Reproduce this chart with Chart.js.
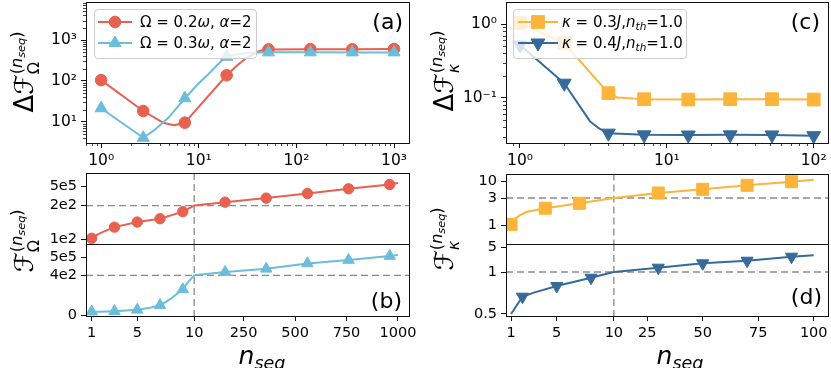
<!DOCTYPE html>
<html>
<head>
<meta charset="utf-8">
<title>Fidelity vs n_seq</title>
<script src="https://cdn.jsdelivr.net/npm/chart.js@4.4.1/dist/chart.umd.min.js"></script>
<style>
html, body { margin: 0; padding: 0; background: #fff; }
#fig { position: relative; width: 831px; height: 368px; overflow: hidden; font-family: "DejaVu Sans", sans-serif; color: #000; }
#fig canvas { position: absolute; }
.t { position: absolute; white-space: nowrap; line-height: 1; }
.ylab { font-size: 26px; transform: translate(-50%, -50%) rotate(-90deg); }
.xlab { font-size: 25px; transform: translate(-50%, 0); }
.plab { font-size: 22px; line-height: 22px; }
.lo { font-size: 0.7em; position: relative; top: 0.3em; }
.stk { position: relative; display: inline-block; font-size: 0.62em; }
.stk .up { position: relative; top: -0.7em; }
.stk .dn { position: absolute; left: 0; top: 0.35em; }
.legend { position: absolute; border: 1px solid #ccc; border-radius: 4px; background: rgba(255,255,255,0.8); box-sizing: border-box; font-size: 15px; z-index: 2; }
.legend .row { position: absolute; left: 0; height: 20px; width: 100%; }
.legend .txt { position: absolute; top: 2px; white-space: nowrap; line-height: 16px; }
</style>
</head>
<body>
<div id="fig">
  <canvas id="chartA" width="420" height="170" style="left:0;top:0"></canvas>
  <canvas id="chartC" width="411" height="170" style="left:420px;top:0"></canvas>
  <canvas id="chartBt" width="420" height="75" style="left:0;top:170px"></canvas>
  <canvas id="chartBb" width="420" height="138" style="left:0;top:230px"></canvas>
  <canvas id="chartDt" width="411" height="75" style="left:420px;top:170px"></canvas>
  <canvas id="chartDb" width="411" height="138" style="left:420px;top:230px"></canvas>

  <div class="legend" id="legA" style="left:94px;top:9px;width:163px;height:50px"></div>
  <div class="legend" id="legC" style="left:513px;top:9px;width:174px;height:50px"></div>

  <div class="t ylab" style="left:24px;top:72px">Δℱ<span class="stk"><span class="up">(<i>n</i><span class="lo"><i>seq</i></span>)</span><span class="dn">Ω</span></span></div>
  <div class="t ylab" style="left:24px;top:241px">ℱ<span class="stk"><span class="up">(<i>n</i><span class="lo"><i>seq</i></span>)</span><span class="dn">Ω</span></span></div>
  <div class="t ylab" style="left:444px;top:71px">Δℱ<span class="stk"><span class="up">(<i>n</i><span class="lo"><i>seq</i></span>)</span><span class="dn"><i>κ</i></span></span></div>
  <div class="t ylab" style="left:444px;top:239px">ℱ<span class="stk"><span class="up">(<i>n</i><span class="lo"><i>seq</i></span>)</span><span class="dn"><i>κ</i></span></span></div>

  <div class="t xlab" style="left:262px;top:343px"><i>n</i><span class="lo"><i>seq</i></span></div>
  <div class="t xlab" style="left:680px;top:343px"><i>n</i><span class="lo"><i>seq</i></span></div>

  <div class="t plab" style="right:428px;top:11px">(a)</div>
  <div class="t plab" style="right:11px;top:11px">(c)</div>
  <div class="t plab" style="right:429px;top:290px">(b)</div>
  <div class="t plab" style="right:9px;top:286px">(d)</div>
</div>
<script>
// ---- data ----

// (a) ΔF_Ω vs n_seq, log-log
const nA = [1, 2.7, 7.2, 19.3, 51.8, 139, 373, 1000];
const dFOmega02 = [105, 18.5, 9.6, 138, 590, 600, 595, 605];
const dFOmega03 = [21.6, 4.1, 37.8, 392, 501, 501, 500, 500];
const nA02Curve = [1, 2.7, 4.4, 5.6, 7.2, 19.3, 25, 30, 40, 45, 51.8, 139, 373, 1000];
const dFOmega02Curve = [105, 18.5, 9.4, 8.3, 9.6, 138, 246, 350, 520, 565, 590, 600, 595, 605];
const nA03Curve = [1, 2.7, 3.5, 4.8, 7.2, 10, 12.3, 16.7, 19.3, 25, 31, 40, 51.8, 139, 373, 1000];
const dFOmega03Curve = [21.6, 4.1, 6.3, 12.1, 37.8, 88, 140, 296, 392, 450, 485, 497, 501, 501, 500, 500];
const aXTicks = [1, 10, 100, 1000];
const aXLabels = ['10⁰', '10¹', '10²', '10³'];
const aYTicks = [10, 100, 1000];
const aYLabels = ['10¹', '10²', '10³'];

// (c) ΔF_κ vs n_seq, log-log
const nC = [1, 2, 4, 7, 14, 27, 52, 100];
const dFKappa03 = [1.04, 0.55, 0.116, 0.096, 0.095, 0.096, 0.096, 0.095];
const dFKappa04 = [0.52, 0.158, 0.0333, 0.0316, 0.0314, 0.0316, 0.0315, 0.0308];
const nC03Curve = [1, 2, 4, 4.6, 7, 14, 27, 52, 100];
const dFKappa03Curve = [1.04, 0.55, 0.116, 0.101, 0.096, 0.095, 0.096, 0.096, 0.095];
const nC04Curve = [1, 2, 3, 3.5, 4, 7, 14, 27, 52, 100];
const dFKappa04Curve = [0.52, 0.158, 0.048, 0.038, 0.0333, 0.0316, 0.0314, 0.0316, 0.0315, 0.0308];
const cXTicks = [1, 10, 100];
const cXLabels = ['10⁰', '10¹', '10²'];
const cYTicks = [0.1, 1];
const cYLabels = ['10⁻¹', '10⁰'];

// (b) F_Ω, broken axes (1..10 | 10..1000)
const nB = [1, 3, 5, 7, 9, 160, 360, 560, 760, 960];
const fOmega02 = [103, 136, 151, 161, 182, 89000, 195000, 316000, 439000, 552000];
const fOmega03 = [40, 45, 58, 103, 261, 92000, 180000, 330000, 425000, 536000];
const nB02Curve = [1, 1.5, 2, 3, 5, 7, 9, 10, 160, 360, 560, 760, 960, 1000];
const fOmega02Curve = [103, 114, 122, 136, 151, 161, 182, 200, 89000, 195000, 316000, 439000, 552000, 589000];
const nB03Curve = [1, 3, 5, 6, 7, 8, 9, 9.5, 10, 160, 360, 560, 760, 960, 1000];
const fOmega03Curve = [36, 45, 58, 75, 103, 172, 261, 337, 400, 92000, 180000, 330000, 425000, 536000, 563000];
const bXTicks = [1, 5, 10, 250, 500, 750, 1000];
const bXLabels = ['1', '5', '10', '250', '500', '750', '1000'];
const bTopYTicks = [100, 200, 500000];
const bTopYLabels = ['1e2', '2e2', '5e5'];
const bBotYTicks = [0, 400, 500000];
const bBotYLabels = ['0', '4e2', '5e5'];

// (d) F_κ, broken axes (1..10 | 10..100)
const nD03 = [1, 4, 7, 30, 50, 70, 90];
const fKappa03 = [1.1, 2.26, 2.62, 5.15, 6.74, 8.45, 10.0];
const nD04 = [2, 5, 8, 30, 50, 70, 90];
const fKappa04 = [0.706, 0.833, 0.932, 1.70, 2.41, 2.83, 3.48];
const nD03Curve = [1, 1.3, 1.8, 2.4, 4, 7, 10, 30, 50, 70, 90, 100];
const fKappa03Curve = [1.1, 1.46, 1.77, 2.01, 2.26, 2.62, 3.0, 5.15, 6.74, 8.45, 10.0, 10.86];
const nD04Curve = [1, 2, 3, 5, 8, 10, 30, 50, 70, 90, 100];
const fKappa04Curve = [0.5, 0.706, 0.754, 0.833, 0.932, 1.0, 1.70, 2.41, 2.83, 3.48, 3.70];
const dXTicks = [1, 5, 10, 25, 50, 75, 100];
const dXLabels = ['1', '5', '10', '25', '50', '75', '100'];
const dTopYTicks = [1, 3, 10];
const dTopYLabels = ['1', '3', '10'];
const dBotYTicks = [0.5, 1, 5];
const dBotYLabels = ['0.5', '1', '5'];

const RED = '#e8604f';
const SKY = '#6cbdd9';
const ORANGE = '#fdb43a';
const NAVY = '#356a9a';
const FONT = '"DejaVu Sans", sans-serif';

// linear scale that is stretched differently on each side of its knots (broken axis)
class PiecewiseScale extends Chart.LinearScale {
    static id = 'piecewise';

    toUnit(v) {
        const k = this.options.knots;
        const u = this.options.units;
        let i = 0;
        while (i < k.length - 2 && v > k[i + 1]) { i++; }
        return u[i] + (v - k[i]) * (u[i + 1] - u[i]) / (k[i + 1] - k[i]);
    }

    fromUnit(p) {
        const k = this.options.knots;
        const u = this.options.units;
        let i = 0;
        while (i < u.length - 2 && p > u[i + 1]) { i++; }
        return k[i] + (p - u[i]) * (k[i + 1] - k[i]) / (u[i + 1] - u[i]);
    }

    determineDataLimits() {
        this.min = this.options.lo;
        this.max = this.options.hi;
    }

    buildTicks() {
        return this.options.marks.map(v => ({ value: v }));
    }

    getPixelForValue(v) {
        return v === null || v === undefined ? NaN : super.getPixelForValue(this.toUnit(v));
    }

    getValueForPixel(px) {
        return this.fromUnit(super.getValueForPixel(px));
    }
}
Chart.register(PiecewiseScale);

const framePlugin = {
    id: 'frame',
    afterDatasetsDraw(chart) {
        const { ctx, chartArea: a } = chart;
        const l = Math.round(a.left), t = Math.round(a.top);
        const r = Math.round(a.right), b = Math.round(a.bottom);
        ctx.save();
        ctx.strokeStyle = '#111';
        ctx.lineWidth = 1;
        ctx.strokeRect(l + 0.5, t + 0.5, r - l, b - t);
        ctx.restore();
    },
};

const minorTickPlugin = {
    id: 'minorTicks',
    afterDraw(chart) {
        const ctx = chart.ctx;
        ctx.save();
        ctx.strokeStyle = '#111';
        ctx.lineWidth = 0.8;
        Object.values(chart.scales).forEach((s) => {
            if (s.type !== 'logarithmic') { return; }
            const lo = Math.floor(Math.log10(s.min));
            const hi = Math.ceil(Math.log10(s.max));
            for (let e = lo; e < hi; e++) {
                for (let m = 2; m < 10; m++) {
                    const v = m * Math.pow(10, e);
                    if (v < s.min || v > s.max) { continue; }
                    const p = Math.round(s.getPixelForValue(v)) + 0.5;
                    ctx.beginPath();
                    if (s.isHorizontal()) {
                        ctx.moveTo(p, s.top);
                        ctx.lineTo(p, s.top + 3);
                    } else {
                        ctx.moveTo(s.right, p);
                        ctx.lineTo(s.right - 3, p);
                    }
                    ctx.stroke();
                }
            }
        });
        ctx.restore();
    },
};

// dashed guide lines at the axis break values
const guidePlugin = {
    id: 'guides',
    beforeDatasetsDraw(chart, args, opts) {
        const { ctx, chartArea: a, scales } = chart;
        ctx.save();
        ctx.beginPath();
        ctx.rect(a.left, a.top, a.right - a.left, a.bottom - a.top);
        ctx.clip();
        ctx.strokeStyle = '#8a8a8a';
        ctx.lineWidth = 1.3;
        ctx.setLineDash([7, 4]);
        (opts.x || []).forEach((v) => {
            const p = scales.x.getPixelForValue(v);
            ctx.beginPath();
            ctx.moveTo(p, a.top);
            ctx.lineTo(p, a.bottom);
            ctx.stroke();
        });
        (opts.y || []).forEach((v) => {
            const p = scales.y.getPixelForValue(v);
            ctx.beginPath();
            ctx.moveTo(a.left, p);
            ctx.lineTo(a.right, p);
            ctx.stroke();
        });
        ctx.restore();
    },
};

function zeroPad(s) {
    s.paddingLeft = 0;
    s.paddingRight = 0;
    s.paddingTop = 0;
    s.paddingBottom = 0;
}

function fixWidth(w) {
    return (s) => { s.width = w; zeroPad(s); };
}

function fixHeight(h) {
    return (s) => { s.height = h; zeroPad(s); };
}

function tickOpts(labels, size) {
    return {
        font: { family: FONT, size: size || 14.5 },
        color: '#000',
        padding: 4,
        autoSkip: false,
        maxRotation: 0,
        minRotation: 0,
        callback: (v, i) => labels[i],
    };
}

const grid = { drawOnChartArea: false, drawTicks: true, tickLength: 5, tickColor: '#111', tickWidth: 1 };

function logAxis(min, max, ticks, labels, fit) {
    return {
        type: 'logarithmic',
        min,
        max,
        afterBuildTicks: (s) => { s.ticks = ticks.map(v => ({ value: v })); },
        ticks: tickOpts(labels, 15.5),
        grid,
        border: { display: false },
        afterFit: fit,
    };
}

function brokenAxis(knots, units, lo, hi, ticks, labels, fit) {
    return {
        type: 'piecewise',
        knots,
        units,
        lo,
        hi,
        marks: ticks,
        ticks: tickOpts(labels),
        grid,
        border: { display: false },
        afterFit: fit,
    };
}

function pts(xs, ys) {
    return xs.map((x, i) => ({ x, y: ys[i] }));
}

function curve(xs, ys, color) {
    return {
        data: pts(xs, ys),
        borderColor: color,
        borderWidth: 2,
        borderJoinStyle: 'round',
        pointRadius: 0,
        tension: 0,
        clip: 0,
    };
}

function marks(xs, ys, color, style, radius, rotation) {
    return {
        data: pts(xs, ys),
        showLine: false,
        pointStyle: style,
        pointRadius: radius,
        pointRotation: rotation || 0,
        pointBackgroundColor: color,
        pointBorderColor: color,
        pointBorderWidth: 1,
        clip: 0,
    };
}

function draw(id, datasets, scales, padding, guides) {
    return new Chart(document.getElementById(id), {
        type: 'line',
        data: { datasets },
        options: {
            responsive: false,
            animation: false,
            events: [],
            layout: { padding, autoPadding: false },
            plugins: {
                legend: { display: false },
                tooltip: { enabled: false },
                guides: guides || {},
            },
            scales,
        },
        plugins: [guidePlugin, framePlugin, minorTickPlugin],
    });
}

// (a)
draw('chartA', [
    marks(nA, dFOmega03, SKY, 'triangle', 7),
    curve(nA03Curve, dFOmega03Curve, SKY),
    marks(nA, dFOmega02, RED, 'circle', 5.8),
    curve(nA02Curve, dFOmega02Curve, RED),
], {
    x: logAxis(0.72, 1423, aXTicks, aXLabels, fixHeight(27)),
    y: logAxis(3.06, 8500, aYTicks, aYLabels, fixWidth(86)),
}, { left: 0, top: 2, right: 11, bottom: 0 });

// (c)
draw('chartC', [
    marks(nC, dFKappa04, NAVY, 'triangle', 8, 180),
    curve(nC04Curve, dFKappa04Curve, NAVY),
    marks(nC, dFKappa03, ORANGE, 'rect', 9),
    curve(nC03Curve, dFKappa03Curve, ORANGE),
], {
    x: logAxis(0.803, 125.1, cXTicks, cXLabels, fixHeight(27)),
    y: logAxis(0.0245, 1.99, cYTicks, cYLabels, fixWidth(86)),
}, { left: 0, top: 2, right: 3, bottom: 0 });

// (b) top and bottom
const bX = [[1, 10, 1000], [0, 9, 26.89], -0.5, 27.86];
draw('chartBt', [
    marks(nB, fOmega02, RED, 'circle', 5.2),
    curve(nB02Curve, fOmega02Curve, RED),
], {
    x: Object.assign(brokenAxis(bX[0], bX[1], bX[2], bX[3], bXTicks, bXLabels), { display: false }),
    y: brokenAxis([100, 200, 500000], [0, 1, 1.565], -0.14, 1.964, bTopYTicks, bTopYLabels, fixWidth(86)),
}, { left: 0, top: 3, right: 11, bottom: 1 }, { x: [10], y: [200] });

draw('chartBb', [
    marks(nB, fOmega03, SKY, 'triangle', 6.6),
    curve(nB03Curve, fOmega03Curve, SKY),
], {
    x: brokenAxis(bX[0], bX[1], bX[2], bX[3], bXTicks, bXLabels, fixHeight(52)),
    y: brokenAxis([0, 400, 500000], [0, 1, 1.446], -0.008, 1.775, bBotYTicks, bBotYLabels, fixWidth(86)),
}, { left: 0, top: 14, right: 11, bottom: 0 }, { x: [10], y: [400] });

// (d) top and bottom
const dX = [[1, 10, 100], [0, 9, 26.49], -0.44, 27.74];
draw('chartDt', [
    marks(nD03, fKappa03, ORANGE, 'rect', 8.5),
    curve(nD03Curve, fKappa03Curve, ORANGE),
], {
    x: Object.assign(brokenAxis(dX[0], dX[1], dX[2], dX[3], dXTicks, dXLabels), { display: false }),
    y: brokenAxis([1, 3, 10], [0, 2, 3.177], -1.32, 3.77, dTopYTicks, dTopYLabels, fixWidth(86)),
}, { left: 0, top: 3.5, right: 3, bottom: 1 }, { x: [10], y: [3] });

draw('chartDb', [
    marks(nD04, fKappa04, NAVY, 'triangle', 7, 180),
    curve(nD04Curve, fKappa04Curve, NAVY),
], {
    x: brokenAxis(dX[0], dX[1], dX[2], dX[3], dXTicks, dXLabels, fixHeight(52)),
    y: brokenAxis([0.5, 1, 5], [0, 1, 1.588], -0.048, 1.667, dBotYTicks, dBotYLabels, fixWidth(86)),
}, { left: 0, top: 14, right: 3, bottom: 0 }, { x: [10], y: [1] });

// legends: small line + marker sample, then the label
function legendRow(box, top, color, style, radius, rotation, html, lineFrom, lineTo, textLeft) {
    const row = document.createElement('div');
    row.className = 'row';
    row.style.top = top + 'px';
    const icon = document.createElement('canvas');
    icon.width = lineTo + 8;
    icon.height = 20;
    icon.style.left = '0px';
    icon.style.top = '0px';
    const ctx = icon.getContext('2d');
    ctx.strokeStyle = color;
    ctx.fillStyle = color;
    ctx.lineWidth = 2;
    ctx.beginPath();
    ctx.moveTo(lineFrom, 10);
    ctx.lineTo(lineTo, 10);
    ctx.stroke();
    ctx.lineWidth = 1;
    Chart.helpers.drawPoint(ctx, { pointStyle: style, radius, rotation: rotation || 0, borderWidth: 1 }, (lineFrom + lineTo) / 2, 10);
    row.appendChild(icon);
    const txt = document.createElement('span');
    txt.className = 'txt';
    txt.style.left = textLeft + 'px';
    txt.innerHTML = html;
    row.appendChild(txt);
    box.appendChild(row);
}

const legA = document.getElementById('legA');
legendRow(legA, 2, RED, 'circle', 5.8, 0, 'Ω = 0.2<i>ω</i>, <i>α</i>=2', 3, 37, 45);
legendRow(legA, 23, SKY, 'triangle', 7, 0, 'Ω = 0.3<i>ω</i>, <i>α</i>=2', 3, 37, 45);
const legC = document.getElementById('legC');
legendRow(legC, 2, ORANGE, 'rect', 9, 0, '<i>κ</i> = 0.3<i>J</i>,<i>n</i><span class="lo"><i>th</i></span>=1.0', 4, 44, 48);
legendRow(legC, 23, NAVY, 'triangle', 8, 180, '<i>κ</i> = 0.4<i>J</i>,<i>n</i><span class="lo"><i>th</i></span>=1.0', 4, 44, 48);
</script>
</body>
</html>
